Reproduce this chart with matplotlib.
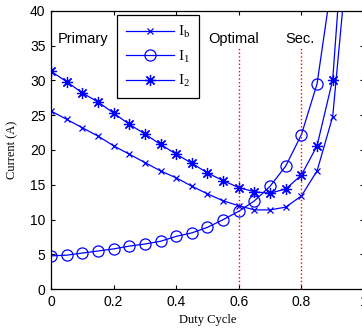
import numpy as np
import matplotlib
matplotlib.use("Agg")
import matplotlib.pyplot as plt

plt.rcParams["mathtext.fontset"] = "custom"
plt.rcParams["mathtext.rm"] = "Liberation Serif"
plt.rcParams["mathtext.it"] = "Liberation Serif"

dutyCycle = np.round(np.arange(0, 0.951, 0.05), 2)

currentB = [25.6, 24.4, 23.2, 22.0, 20.6, 19.4, 18.2, 17.0, 16.0, 14.8,
            13.7, 12.7, 12.0, 11.4, 11.4, 11.8, 13.4, 17.0, 24.8, 49.0]
current1 = [4.8, 4.9, 5.2, 5.5, 5.8, 6.2, 6.5, 6.9, 7.6, 8.1,
            8.9, 10.0, 11.2, 12.7, 14.8, 17.7, 22.2, 29.5, 45.0, 70.0]
current2 = [31.3, 29.8, 28.2, 26.9, 25.3, 23.7, 22.3, 20.8, 19.4, 18.1,
            16.7, 15.6, 14.6, 14.0, 13.8, 14.4, 16.4, 20.6, 30.1, 61.0]

regionLabels = ["Primary", "Optimal", "Sec."]
regionX = [0.02, 0.585, 0.795]
boundaryX = [0.6, 0.8]

tickFont = "Liberation Sans"
labelFont = "Liberation Serif"

fig = plt.figure(figsize=(3.62, 3.31), dpi=100)
ax = fig.add_axes([51 / 362, 41.7 / 331, 313 / 362, 278.6 / 331])

blue = (0, 0, 1)
ax.plot(dutyCycle, currentB, color=blue, lw=0.9, marker="x", ms=5, mew=0.9,
        label=r"$\mathrm{I_b}$")
ax.plot(dutyCycle, current1, color=blue, lw=0.9, marker="o", ms=8, mfc="none",
        mew=0.9, label=r"$\mathrm{I_1}$")
ax.plot(dutyCycle, current2, color=blue, lw=0.9, marker=(8, 2, 0), ms=8, mew=0.9,
        label=r"$\mathrm{I_2}$")

for bx in boundaryX:
    ax.plot([bx, bx], [0, 34.6], color="red", ls=":", lw=1)

for i, txt in enumerate(regionLabels):
    ax.text(regionX[i], 35.9, txt, ha="left" if i == 0 else "center", va="center",
            fontsize=10.5, family=tickFont)

ax.set_xlim(0, 1)
ax.set_ylim(0, 40)
ax.set_xticks([0, 0.2, 0.4, 0.6, 0.8, 1])
ax.set_xticklabels(["0", "0.2", "0.4", "0.6", "0.8", "1"])
ax.set_yticks(range(0, 41, 5))
ax.tick_params(direction="in", top=True, right=True, length=3, width=0.8,
               labelsize=10, pad=4)
for lbl in ax.get_xticklabels() + ax.get_yticklabels():
    lbl.set_family(tickFont)
for sp in ax.spines.values():
    sp.set_linewidth(0.9)

ax.set_xlabel("Duty Cycle", family=labelFont, fontsize=9, labelpad=4)
ax.set_ylabel("Current (A)", family=labelFont, fontsize=9, labelpad=8)

leg = ax.legend(loc="upper left", bbox_to_anchor=(0.211, 0.985), fancybox=False,
                edgecolor="black", framealpha=1, fontsize=11, handlelength=3.1,
                borderpad=0.6, labelspacing=0.55, handletextpad=0.3,
                borderaxespad=0)
leg.get_frame().set_linewidth(0.9)

fig.savefig("out.png", dpi=100)
